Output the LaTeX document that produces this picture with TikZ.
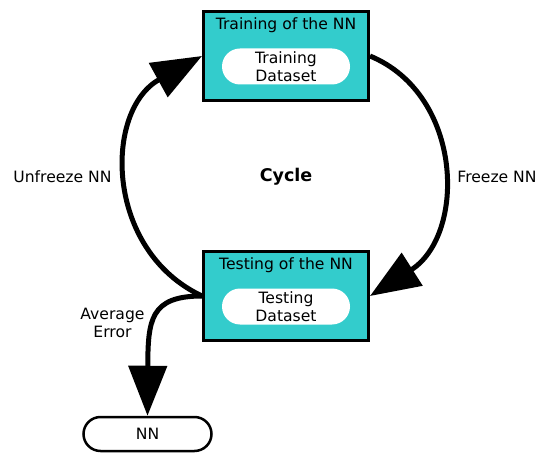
\documentclass[tikz,border=0pt]{standalone}
\usepackage{fontspec}
\setmainfont{DejaVu Sans}
\usetikzlibrary{arrows.meta}
\definecolor{turq}{RGB}{51,204,204}
\begin{document}
\begin{tikzpicture}[x=1pt,y=-1pt,
  font=\fontsize{15.6}{18}\selectfont,
  stage/.style={draw=black,line width=3pt,fill=turq,minimum width=165pt,minimum height=89pt,inner sep=0pt},
  pill/.style={fill=white,rounded corners=18pt,minimum width=128pt,minimum height=36pt,align=center,inner sep=0pt},
  endpill/.style={draw=black,line width=2.5pt,fill=white,rounded corners=17pt,minimum width=128pt,minimum height=34pt,inner sep=0pt},
  flow/.style={line width=5pt,-{Triangle[length=50pt,width=38pt]}},
  lbl/.style={align=center,inner sep=0pt}]
\useasboundingbox (0,0) rectangle (543,454);
\node[stage] (train) at (286,56) {};
\node[lbl] (traint) at (286,25) {Training of the NN};
\node[pill] (trainset) at (286,66.5) {Training\\Dataset};
\node[stage] (test) at (286,296) {};
\node[lbl] (testt) at (286,265) {Testing of the NN};
\node[pill] (testset) at (286,306.5) {Testing\\Dataset};
\node[endpill] (nn) at (147.5,434) {NN};
\node[lbl,font=\fontsize{17.5}{18}\selectfont\bfseries] (cycle) at (286,177) {Cycle};
\node[lbl] (unfreeze) at (62.5,177) {Unfreeze NN};
\node[lbl] (freeze) at (497,177) {Freeze NN};
\node[lbl] (avg) at (112.5,323) {Average\\Error};
\draw[flow] (train.east) .. controls (464,95) and (466,235) .. (test.east);
\draw[flow] (test.west) .. controls (104,250) and (104,110) .. (train.west);
\draw[flow] (test.west) .. controls (150,296) and (148,320) .. (nn.north);
\end{tikzpicture}
\end{document}
